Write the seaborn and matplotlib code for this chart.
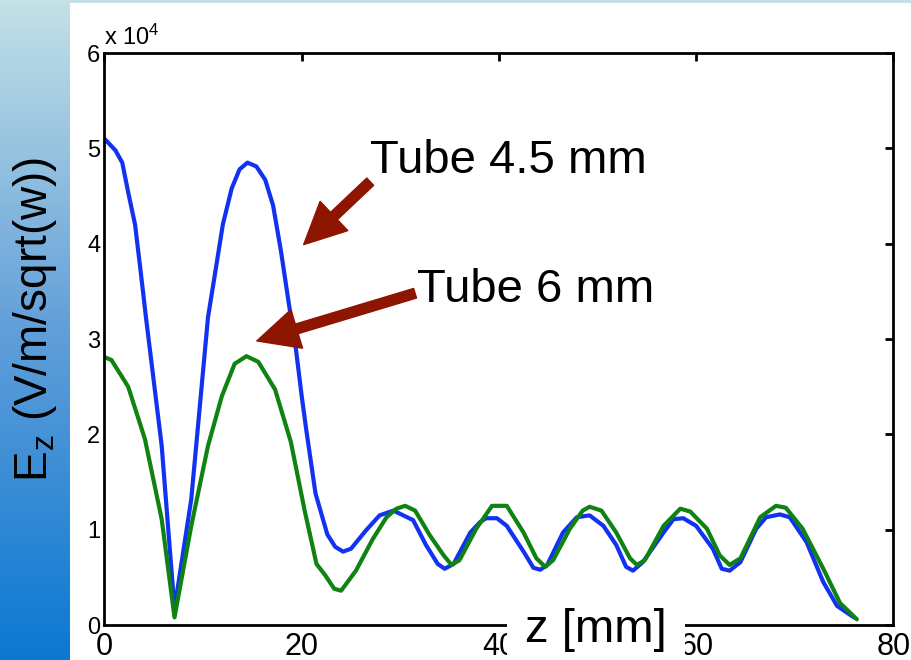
import numpy as np
import pandas as pd
import matplotlib
matplotlib.use("Agg")
import matplotlib.pyplot as plt
from matplotlib.patches import Rectangle
from matplotlib.colors import LinearSegmentedColormap
import seaborn as sns

# Axial field E_z along the structure, in units of 10^4 V/m/sqrt(W)
z_tube45 = [0, 1.1, 1.8, 2.4, 3.1, 3.7, 4.2, 5.8, 7.1, 8.8, 10.5, 11.2, 12.0, 12.9,
            13.7, 14.5, 15.4, 16.3, 17.1, 17.9, 18.8, 19.3, 20.0, 20.5, 21.4, 22.6,
            23.4, 24.2, 25.0, 26.5, 27.9, 29.3, 31.3, 32.6, 33.8, 34.5, 35.4, 37.1,
            38.1, 38.7, 39.8, 40.8, 42.5, 43.5, 44.2, 44.9, 46.5, 47.9, 49.2, 50.6,
            51.9, 52.9, 53.6, 54.6, 56.7, 57.7, 58.7, 60.0, 61.7, 62.6, 63.4, 64.5,
            66.1, 67.1, 68.5, 69.5, 71.2, 72.9, 74.3, 76.0]
ez_tube45 = [5.10, 4.98, 4.85, 4.54, 4.20, 3.68, 3.23, 1.88, 0.17, 1.32, 3.23, 3.68,
             4.20, 4.58, 4.78, 4.85, 4.81, 4.67, 4.40, 3.92, 3.30, 2.99, 2.40, 2.02,
             1.38, 0.95, 0.82, 0.77, 0.80, 0.99, 1.15, 1.20, 1.10, 0.84, 0.64, 0.59,
             0.64, 0.97, 1.08, 1.12, 1.12, 1.04, 0.77, 0.60, 0.58, 0.63, 0.97, 1.13,
             1.15, 1.04, 0.84, 0.61, 0.57, 0.66, 0.97, 1.11, 1.12, 1.04, 0.80, 0.59,
             0.57, 0.66, 1.01, 1.13, 1.16, 1.13, 0.87, 0.45, 0.20, 0.08]

z_tube6 = [0, 0.7, 2.4, 4.1, 5.8, 7.1, 8.8, 10.5, 11.9, 13.2, 14.4, 15.6, 17.3, 18.9,
           20.3, 21.5, 22.4, 23.3, 24.0, 25.5, 27.2, 28.6, 29.6, 30.5, 31.5, 33.0,
           34.4, 35.2, 36.0, 37.7, 39.3, 40.8, 42.5, 43.8, 44.7, 45.5, 47.2, 48.5,
           49.2, 50.4, 51.9, 53.3, 54.0, 54.8, 56.7, 58.4, 59.4, 61.1, 62.4, 63.4,
           64.5, 66.5, 68.1, 69.1, 70.8, 72.9, 74.6, 76.3]
ez_tube6 = [2.81, 2.78, 2.50, 1.95, 1.11, 0.08, 1.04, 1.88, 2.40, 2.74, 2.82, 2.76,
            2.47, 1.92, 1.20, 0.64, 0.52, 0.38, 0.36, 0.57, 0.90, 1.13, 1.22, 1.25,
            1.20, 0.94, 0.73, 0.63, 0.68, 1.01, 1.25, 1.25, 0.97, 0.70, 0.61, 0.68,
            1.01, 1.20, 1.24, 1.20, 0.97, 0.70, 0.63, 0.68, 1.04, 1.22, 1.19, 1.01,
            0.73, 0.63, 0.70, 1.13, 1.25, 1.23, 1.01, 0.59, 0.23, 0.06]

x_ticks = [0, 20, 40, 60, 80]
y_ticks = [0, 1, 2, 3, 4, 5, 6]

series_names = ["Tube 4.5 mm", "Tube 6 mm"]
series_colors = {"Tube 4.5 mm": "#1232f2", "Tube 6 mm": "#0f8212"}

df = pd.concat([
    pd.DataFrame({"z": z_tube45, "Ez": ez_tube45, "tube": series_names[0]}),
    pd.DataFrame({"z": z_tube6, "Ez": ez_tube6, "tube": series_names[1]}),
])

sns.set_style("white")
plt.rcParams["font.family"] = ["Liberation Sans", "DejaVu Sans"]
plt.rcParams["text.color"] = "black"
plt.rcParams["axes.labelcolor"] = "black"
plt.rcParams["xtick.color"] = "black"
plt.rcParams["ytick.color"] = "black"
plt.rcParams["mathtext.fontset"] = "custom"
plt.rcParams["mathtext.rm"] = "Liberation Sans"
plt.rcParams["mathtext.it"] = "Liberation Sans:italic"

W, H = 912, 660
fig = plt.figure(figsize=(W / 100, H / 100), dpi=100)
fig.patch.set_facecolor("white")

# slide decoration: gradient band on the left and a thin strip on top
band = fig.add_axes([0, 0, 70 / W, 1])
cmap = LinearSegmentedColormap.from_list(
    "band", [(0.0, "#0b78d2"), (0.5, "#619fd9"), (1.0, "#c3e1e7")])
band.imshow(np.linspace(0, 1, 256)[:, None], aspect="auto", cmap=cmap,
            origin="lower", extent=[0, 1, 0, 1])
band.set_axis_off()
fig.patches.append(Rectangle((0, 1 - 3 / H), 1, 3 / H, transform=fig.transFigure,
                             facecolor="#c3e1e7", edgecolor="none", zorder=0))

ax = fig.add_axes([104.5 / W, 35 / H, 788.8 / W, 572 / H])
sns.lineplot(data=df, x="z", y="Ez", hue="tube", palette=series_colors,
             estimator=None, sort=False, linewidth=3.0, legend=False, ax=ax)

ax.set_xlim(0, 80)
ax.set_ylim(0, 6)
ax.set_xticks(x_ticks)
ax.set_yticks(y_ticks)
ax.set_xticklabels([str(t) for t in x_ticks])
ax.set_yticklabels([str(t) for t in y_ticks])
ax.set_xlabel("")
ax.set_ylabel("")
for s in ax.spines.values():
    s.set_visible(True)
    s.set_linewidth(2.0)
    s.set_color("black")
ax.tick_params(direction="in", length=6, width=2, top=True, right=True,
               colors="black", labelcolor="black")
ax.tick_params(axis="x", labelsize=22, pad=5)
ax.tick_params(axis="y", labelsize=17, pad=3)

ax.text(0.0, 1.014, r"x 10$^{4}$", transform=ax.transAxes, fontsize=17,
        ha="left", va="baseline", color="black")

# annotations
arrow_color = "#8e1500"
arrow_style = "simple,head_length=30,head_width=29,tail_width=7.2"
ax.annotate("", xy=(20.2, 3.99), xytext=(26.95, 4.65),
            arrowprops=dict(arrowstyle=arrow_style, mutation_scale=1,
                            color=arrow_color, shrinkA=0, shrinkB=0))
ax.annotate("", xy=(15.45, 2.98), xytext=(31.5, 3.48),
            arrowprops=dict(arrowstyle=arrow_style, mutation_scale=1,
                            color=arrow_color, shrinkA=0, shrinkB=0))
ax.text(26.95, 4.74, series_names[0], fontsize=34, ha="left", va="baseline",
        color="black")
ax.text(31.7, 3.39, series_names[1], fontsize=34, ha="left", va="baseline",
        color="black")

fig.text(596 / W, 1 - 642 / H, "z [mm]", fontsize=34, ha="center", va="baseline",
         color="black",
         bbox=dict(boxstyle="square,pad=0.38", facecolor="white", edgecolor="none"))
fig.text(35 / W, 1 - 319 / H, r"E$_{\mathrm{z}}$ (V/m/sqrt(w))", fontsize=33,
         rotation=90, ha="center", va="center", color="black")

fig.savefig("out.png", dpi=100, facecolor="white")
